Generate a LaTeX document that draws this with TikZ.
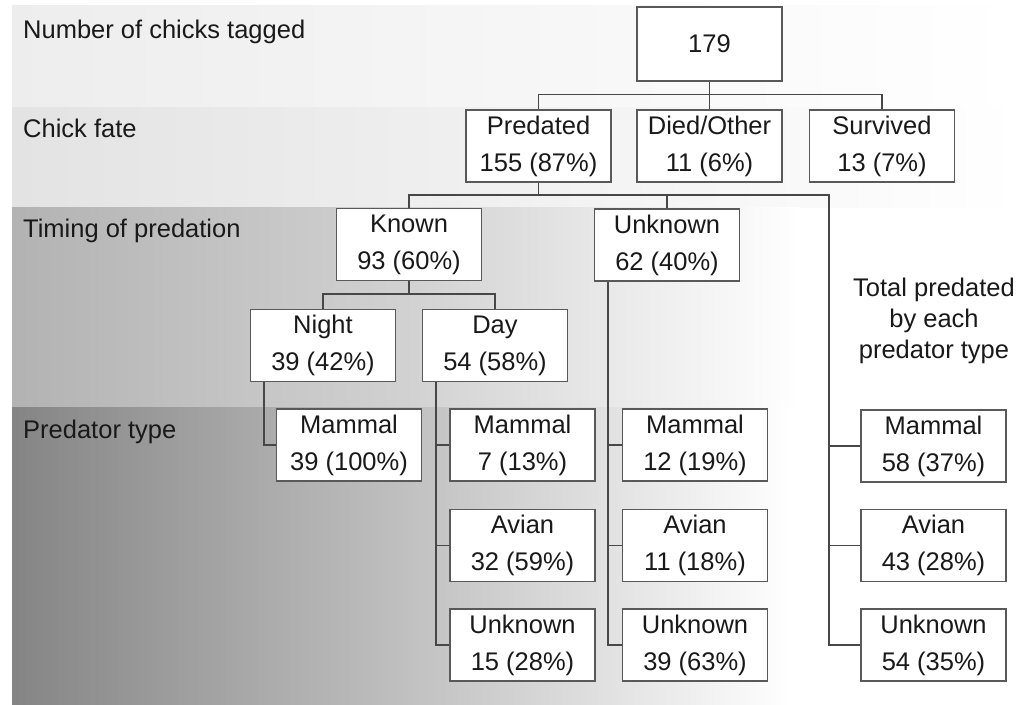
\documentclass[tikz,border=0pt]{standalone}
\usepackage{fontspec}
\setmainfont{Liberation Sans}

\begin{document}
\begin{tikzpicture}[x=1pt,y=-1pt,
  box/.style={draw=black!65,fill=white,line width=1.2pt,minimum width=145pt,
    minimum height=72pt,inner sep=0pt,align=center,text=black!90,
    font=\fontsize{25.5}{37}\selectfont},
  link/.style={draw=black!72,line width=1.2pt},
  rowlabel/.style={anchor=base west,inner sep=0pt,text=black!90,
    font=\fontsize{25.5}{31}\selectfont}]
  \useasboundingbox (0,0) rectangle (1019,704);

  % background bands
  \shade[left color=black!7,right color=white] (12,5) rectangle (1019,107);
  \shade[left color=black!11,right color=white] (12,107) rectangle (1019,207);
  \shade[left color=black!30,right color=white,middle color=black!18] (12,207) rectangle (800,407);
  \shade[left color=black!48,right color=white,middle color=black!25] (12,407) rectangle (790,704);

  \node[rowlabel] (rowtag) at (23,38) {Number of chicks tagged};
  \node[rowlabel] (rowfate) at (23,137) {Chick fate};
  \node[rowlabel] (rowtime) at (23,237) {Timing of predation};
  \node[rowlabel] (rowpred) at (23,438) {Predator type};

  \node[box,minimum height=74pt] (tagged) at (709.5,44) {179};

  \node[box] (predated) at (538.5,146) {Predated\\155 (87\%)};
  \node[box] (died) at (709.5,146) {Died/Other\\11 (6\%)};
  \node[box] (survived) at (882,146) {Survived\\13 (7\%)};

  \node[box] (known) at (409,244.5) {Known\\93 (60\%)};
  \node[box] (unknown) at (667,245) {Unknown\\62 (40\%)};

  \node[box] (night) at (323,345.5) {Night\\39 (42\%)};
  \node[box] (day) at (495,345.5) {Day\\54 (58\%)};

  \node[box] (nmam) at (349,445) {Mammal\\39 (100\%)};

  \node[box] (dmam) at (522.5,445) {Mammal\\7 (13\%)};
  \node[box] (dav) at (522.5,545.5) {Avian\\32 (59\%)};
  \node[box] (dunk) at (522.5,645) {Unknown\\15 (28\%)};

  \node[box] (umam) at (695,445) {Mammal\\12 (19\%)};
  \node[box] (uav) at (695,545.5) {Avian\\11 (18\%)};
  \node[box] (uunk) at (695,645) {Unknown\\39 (63\%)};

  \node[align=center,inner sep=0pt,text=black!90,font=\fontsize{25.5}{31}\selectfont]
    (totlab) at (934,321) {Total predated\\by each\\predator type};
  \node[box] (tmam) at (933.5,446) {Mammal\\58 (37\%)};
  \node[box] (tav) at (933.5,545.5) {Avian\\43 (28\%)};
  \node[box] (tunk) at (933.5,645) {Unknown\\54 (35\%)};

  % connectors
  \draw[link] (tagged) -- (died);
  \draw[link] (predated.north) -- ++(0,-15) -| (survived.north);

  \coordinate (rbus) at (829,195);
  \draw[link] (predated.south) -- (predated.south |- rbus);
  \draw[link] (known.north) |- (rbus) |- (tunk.west);
  \draw[link] (unknown.north) -- (unknown.north |- rbus);
  \draw[link] (rbus |- tmam.west) -- (tmam.west);
  \draw[link] (rbus |- tav.west) -- (tav.west);

  \coordinate (kbus) at (409,294);
  \draw[link] (known) -- (kbus);
  \draw[link] (night.north) |- (kbus) -| (day.north);

  \coordinate (ntrunk) at ([xshift=14pt]night.south west);
  \draw[link] (ntrunk) |- (nmam.west);

  \coordinate (dtrunk) at ([xshift=14pt]day.south west);
  \draw[link] (dtrunk) |- (dunk.west);
  \draw[link] (dtrunk |- dmam.west) -- (dmam.west);
  \draw[link] (dtrunk |- dav.west) -- (dav.west);

  \coordinate (utrunk) at ([xshift=14pt]unknown.south west);
  \draw[link] (utrunk) |- (uunk.west);
  \draw[link] (utrunk |- umam.west) -- (umam.west);
  \draw[link] (utrunk |- uav.west) -- (uav.west);
\end{tikzpicture}
\end{document}
